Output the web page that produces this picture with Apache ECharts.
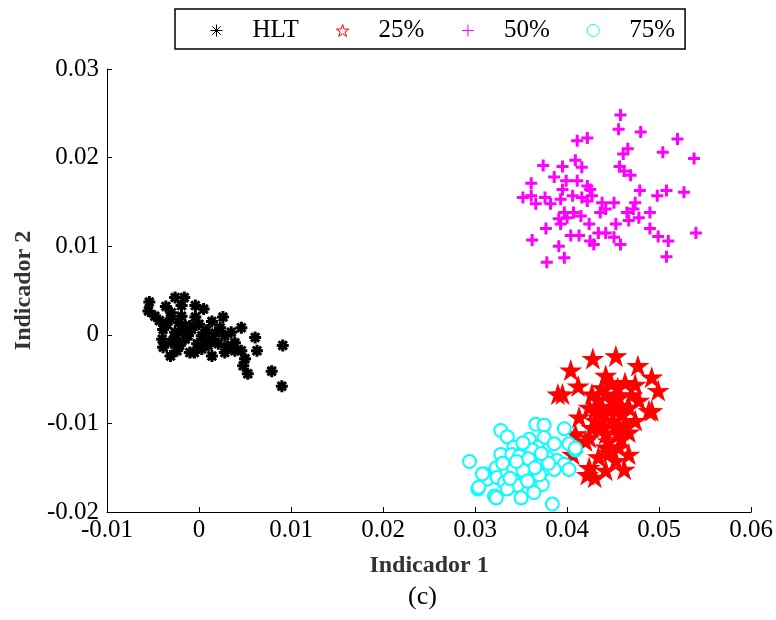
<!DOCTYPE html>
<html><head><meta charset="utf-8">
<script src="https://cdn.jsdelivr.net/npm/echarts@6/dist/echarts.min.js"></script>
<style>html,body{margin:0;padding:0;background:#fff}#c{width:776px;height:620px}</style>
</head><body><div id="c"></div>
<script>
const seriesNames = ['HLT', '25%', '50%', '75%'];
const xTicks = [-0.01, 0, 0.01, 0.02, 0.03, 0.04, 0.05, 0.06];
const yTicks = [-0.02, -0.01, 0, 0.01, 0.02, 0.03];
const xTitle = 'Indicador 1';
const yTitle = 'Indicador 2';
const caption = '(c)';

const hlt = [
[-0.0054,0.0037],[-0.0055,0.0027],[-0.0026,0.0042],[-0.0016,0.0042],[-0.0036,0.0032],[-0.0004,0.0033],
[0.0005,0.0029],[-0.0048,0.0021],[-0.0031,0.0018],[-0.0019,0.0021],[0.0014,0.0015],[0.0026,0.0020],
[0.0046,0.0008],[0.0023,0.0008],[0.0035,0.0003],[0.0061,-0.0003],[0.0091,-0.0012],[0.0063,-0.0018],
[-0.0039,0.0006],[-0.0026,0.0003],[-0.0008,0.0006],[0.0003,-0.0001],[-0.0040,-0.0005],[-0.0030,-0.0009],
[-0.0015,-0.0005],[0.0014,-0.0005],[0.0028,-0.0001],[0.0039,-0.0009],[-0.0039,-0.0014],[-0.0031,-0.0024],
[-0.0024,-0.0018],[-0.0010,-0.0020],[0.0003,-0.0016],[0.0014,-0.0024],[0.0028,-0.0020],[0.0039,-0.0018],
[0.0046,-0.0018],[0.0050,-0.0027],[0.0048,-0.0035],[0.0053,-0.0044],[0.0079,-0.0041],[0.0090,-0.0058],
[-0.0022,0.0014],[-0.0015,0.0010],[-0.0035,0.0012],[-0.0004,0.0020],[-0.0019,0.0033],[-0.0012,-0.0001],
[0.0008,0.0005],[0.0021,-0.0010],[-0.0002,-0.0010],[-0.0021,-0.0012],[-0.0025,0.0000],[-0.0010,0.0010],
[0.0000,0.0012],[-0.0030,0.0025],[0.0010,-0.0012],[-0.0005,-0.0020],[-0.0018,0.0004],[-0.0028,-0.0006],
[0.0007,-0.0007],[0.0018,0.0002],[-0.0043,0.0016],[0.0031,-0.0013]
];
const p25 = [
[0.0428,-0.0027],[0.0453,-0.0024],[0.0477,-0.0035],[0.0404,-0.0040],[0.0492,-0.0048],[0.0499,-0.0063],
[0.0412,-0.0058],[0.0395,-0.0067],[0.0442,-0.0046],[0.0463,-0.0054],[0.0474,-0.0056],[0.0478,-0.0074],
[0.0489,-0.0086],[0.0427,-0.0067],[0.0442,-0.0067],[0.0456,-0.0071],[0.0424,-0.0082],[0.0438,-0.0082],
[0.0453,-0.0086],[0.0467,-0.0082],[0.0413,-0.0093],[0.0431,-0.0097],[0.0449,-0.0097],[0.0463,-0.0101],
[0.0474,-0.0097],[0.0424,-0.0116],[0.0409,-0.0112],[0.0442,-0.0112],[0.0456,-0.0112],[0.0467,-0.0110],
[0.0442,-0.0127],[0.0456,-0.0127],[0.0467,-0.0135],[0.0434,-0.0138],[0.0424,-0.0150],[0.0442,-0.0153],
[0.0462,-0.0152],[0.0420,-0.0120],[0.0406,-0.0135],[0.0453,-0.0142],[0.0390,-0.0067],[0.0422,-0.0158],
[0.0430,-0.0161],[0.0492,-0.0086],[0.0440,-0.0090],[0.0450,-0.0075],[0.0435,-0.0105],[0.0460,-0.0090],
[0.0445,-0.0120],[0.0430,-0.0085],[0.0455,-0.0060],[0.0470,-0.0068],[0.0438,-0.0060],[0.0448,-0.0055],
[0.0433,-0.0073],[0.0447,-0.0081],[0.0458,-0.0080],[0.0439,-0.0097],[0.0452,-0.0104],[0.0427,-0.0105],
[0.0446,-0.0133],[0.0459,-0.0118]
];
const p50 = [
[0.0458,0.0248],[0.0456,0.0232],[0.0480,0.0229],[0.0520,0.0221],[0.0411,0.0219],[0.0422,0.0222],
[0.0466,0.0210],[0.0461,0.0204],[0.0504,0.0206],[0.0538,0.0199],[0.0374,0.0191],[0.0409,0.0197],
[0.0395,0.0190],[0.0416,0.0189],[0.0457,0.0190],[0.0462,0.0185],[0.0469,0.0180],[0.0386,0.0178],
[0.0361,0.0171],[0.0399,0.0174],[0.0411,0.0174],[0.0422,0.0168],[0.0425,0.0164],[0.0395,0.0164],
[0.0352,0.0155],[0.0361,0.0157],[0.0366,0.0148],[0.0376,0.0155],[0.0382,0.0148],[0.0393,0.0153],
[0.0406,0.0157],[0.0416,0.0155],[0.0422,0.0151],[0.0427,0.0157],[0.0438,0.0149],[0.0451,0.0149],
[0.0436,0.0138],[0.0442,0.0142],[0.0397,0.0138],[0.0407,0.0138],[0.0391,0.0131],[0.0400,0.0132],
[0.0415,0.0134],[0.0424,0.0125],[0.0393,0.0125],[0.0377,0.0120],[0.0453,0.0125],[0.0434,0.0115],
[0.0442,0.0115],[0.0404,0.0112],[0.0413,0.0112],[0.0362,0.0107],[0.0425,0.0106],[0.0429,0.0102],
[0.0451,0.0110],[0.0458,0.0102],[0.0391,0.0100],[0.0397,0.0087],[0.0378,0.0082],[0.0479,0.0163],
[0.0498,0.0157],[0.0508,0.0163],[0.0527,0.0161],[0.0474,0.0149],[0.0472,0.0142],[0.0465,0.0138],
[0.0478,0.0132],[0.0490,0.0138],[0.0467,0.0129],[0.0490,0.0120],[0.0499,0.0111],[0.0510,0.0106],
[0.0508,0.0088],[0.0540,0.0115]
];
const p75 = [
[0.0294,-0.0143],[0.0366,-0.0101],[0.0375,-0.0102],[0.0328,-0.0108],[0.0335,-0.0115],[0.0397,-0.0106],
[0.0402,-0.0123],[0.0409,-0.0130],[0.0359,-0.0118],[0.0375,-0.0116],[0.0386,-0.0123],[0.0342,-0.0127],
[0.0353,-0.0131],[0.0368,-0.0127],[0.0328,-0.0135],[0.0339,-0.0142],[0.0350,-0.0142],[0.0364,-0.0138],
[0.0378,-0.0138],[0.0389,-0.0142],[0.0397,-0.0146],[0.0402,-0.0152],[0.0323,-0.0150],[0.0310,-0.0157],
[0.0313,-0.0163],[0.0324,-0.0161],[0.0335,-0.0155],[0.0346,-0.0157],[0.0360,-0.0153],[0.0375,-0.0152],
[0.0386,-0.0152],[0.0332,-0.0167],[0.0346,-0.0170],[0.0360,-0.0167],[0.0373,-0.0169],[0.0303,-0.0174],
[0.0321,-0.0182],[0.0335,-0.0174],[0.0350,-0.0184],[0.0364,-0.0178],[0.0384,-0.0191],[0.0355,-0.0146],
[0.0368,-0.0148],[0.0323,-0.0184],[0.0409,-0.0128],[0.0308,-0.0157],[0.0304,-0.0172],[0.0345,-0.0148],
[0.0355,-0.0160],[0.0340,-0.0135],[0.0362,-0.0130],[0.0352,-0.0122],[0.0330,-0.0145],[0.0370,-0.0158],
[0.0348,-0.0137],[0.0358,-0.0140],[0.0342,-0.0152],[0.0365,-0.0150],[0.0352,-0.0153],[0.0338,-0.0162],
[0.0380,-0.0145],[0.0372,-0.0134],[0.0357,-0.0165],[0.0345,-0.0143]
];

const FONT = 'Liberation Serif';
const asterisk = 'path://M0,-1L0,1M-1,0L1,0M-0.7,-0.7L0.7,0.7M-0.7,0.7L0.7,-0.7';
const star = 'path://M0,-1L0.2245,-0.309L0.951,-0.309L0.363,0.118L0.588,0.809L0,0.382L-0.588,0.809L-0.363,0.118L-0.951,-0.309L-0.2245,-0.309Z';
const plus = 'path://M0,-1L0,1M-1,0L1,0';

const chart = echarts.init(document.getElementById('c'), null, {renderer: 'canvas'});
const axisCommon = {
  axisLine: {show: true, onZero: false, lineStyle: {color: '#000', width: 1}},
  axisTick: {show: true, inside: true, length: 5, lineStyle: {color: '#000'}},
  splitLine: {show: false},
  axisLabel: {color: '#000', fontFamily: FONT, fontSize: 25},
  nameTextStyle: {color: '#333', fontFamily: FONT, fontSize: 24, fontWeight: 'bold'}
};
chart.setOption({
  backgroundColor: '#fff',
  animation: false,
  grid: {left: 107, right: 23, top: 69, bottom: 108, containLabel: false},
  legend: {
    left: 175, top: 9,
    padding: [9, 10, 6, 35],
    borderColor: '#000', borderWidth: 1.5,
    backgroundColor: '#fff',
    itemWidth: 14, itemHeight: 12, itemGap: 37,
    textStyle: {fontFamily: FONT, fontSize: 25, color: '#000', padding: [0, 0, 0, 24]},
    data: [
      {name: seriesNames[0], icon: asterisk, itemStyle: {color: '#000', borderColor: '#000', borderWidth: 1}},
      {name: seriesNames[1], icon: star, itemStyle: {color: '#fff', borderColor: '#f00', borderWidth: 1}},
      {name: seriesNames[2], icon: plus, itemStyle: {color: '#f0f', borderColor: '#f0f', borderWidth: 1}},
      {name: seriesNames[3], icon: 'circle', itemStyle: {color: '#fff', borderColor: '#0ff', borderWidth: 1}}
    ]
  },
  xAxis: Object.assign({}, axisCommon, {
    type: 'value', min: xTicks[0], max: xTicks[xTicks.length - 1], interval: 0.01,
    name: xTitle, nameLocation: 'middle', nameGap: 42,
    axisLabel: Object.assign({}, axisCommon.axisLabel, {margin: 6})
  }),
  yAxis: Object.assign({}, axisCommon, {
    type: 'value', min: yTicks[0], max: yTicks[yTicks.length - 1], interval: 0.01,
    name: yTitle, nameLocation: 'middle', nameGap: 65,
    axisLabel: Object.assign({}, axisCommon.axisLabel, {margin: 8})
  }),
  series: [
    {name: seriesNames[0], type: 'scatter', data: hlt, symbol: asterisk, symbolSize: 12,
     itemStyle: {color: '#000', borderColor: '#000', borderWidth: 3, opacity: 1}},
    {name: seriesNames[1], type: 'scatter', data: p25, symbol: star, symbolSize: [20, 19],
     itemStyle: {color: '#f00', borderColor: '#f00', borderWidth: 1, opacity: 1}},
    {name: seriesNames[2], type: 'scatter', data: p50, symbol: plus, symbolSize: 12,
     itemStyle: {color: '#f0f', borderColor: '#f0f', borderWidth: 3, opacity: 1}},
    {name: seriesNames[3], type: 'scatter', data: p75, symbol: 'emptyCircle', symbolSize: 13,
     itemStyle: {color: '#0ff', borderColor: '#0ff', borderWidth: 3, opacity: 1}}
  ],
  graphic: [{type: 'text', left: 408, top: 584,
    style: {text: caption, font: '26px "Liberation Serif"', fill: '#000'}}]
});
</script></body></html>
